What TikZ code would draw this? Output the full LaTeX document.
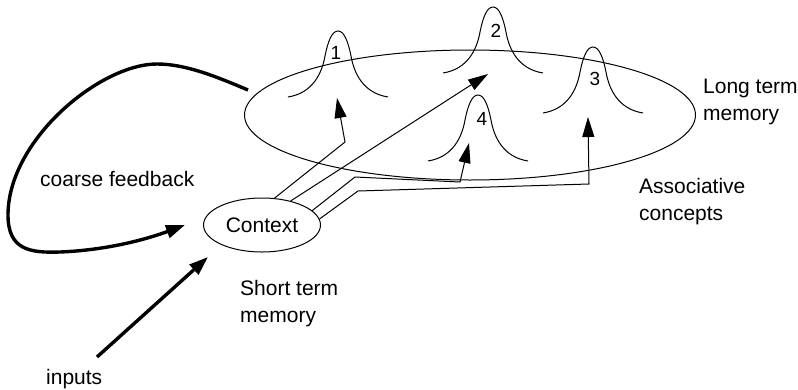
\documentclass[tikz,border=0pt]{standalone}
\usepackage{fontspec}
\setmainfont{Liberation Sans}
\usetikzlibrary{arrows.meta,shapes.geometric}
\begin{document}
\begin{tikzpicture}[x=1pt,y=-1pt,
  lbl/.style={font=\fontsize{21}{27}\selectfont, inner sep=0pt, align=left, anchor=base west},
  lbltwo/.style={lbl, anchor=north west},
  num/.style={font=\fontsize{19}{23}\selectfont, inner sep=0pt},
  wire/.style={line width=1pt},
  wirearrow/.style={wire, -{Triangle[length=20pt,width=12pt]}},
  thickarrow/.style={line width=3.4pt, -{Triangle[length=19pt,width=13pt]}},
  pics/bump/.style={code={\draw[wire] (-50,66) .. controls (-25,62) and (-16,42) .. (-13,25)
      .. controls (-10,10) and (-6,0) .. (0,0)
      .. controls (6,0) and (10,10) .. (13,25)
      .. controls (16,42) and (25,62) .. (50,66);}}
]
\useasboundingbox (0,0) rectangle (798,389);

% long term memory ellipse
\node[ellipse, draw, wire, minimum width=451pt, minimum height=130pt, inner sep=0pt] (ltm) at (470,115) {};

% bumps (associative concepts)
\pic at (338,31) {bump};
\pic at (493,7) {bump};
\pic at (593,47) {bump};
\pic at (478,95) {bump};
\node[num] (n1) at (336,53) {1};
\node[num] (n2) at (496,31) {2};
\node[num] (n3) at (595,79) {3};
\node[num] (n4) at (482,119) {4};

% context
\node[ellipse, draw, wire, minimum width=117pt, minimum height=54pt, inner sep=0pt,
      font=\fontsize{21}{27}\selectfont] (ctx) at (262,225) {Context};

% connectors from context to concepts
\coordinate (k1) at (345,142);
\coordinate (t1) at (337,98);
\coordinate (t2) at (488,74);
\coordinate (k4a) at (355,177);
\coordinate (k4b) at (460,182);
\coordinate (t4) at (469,143);
\coordinate (k3a) at (358,191);
\coordinate (k3b) at (589,184);
\coordinate (t3) at (588,117);
\draw[wirearrow] (ctx.65) -- (k1) -- (t1);
\draw[wirearrow] (ctx.40) -- (t2);
\draw[wirearrow] (ctx.16) -- (k4a) -- (k4b) -- (t4);
\draw[wirearrow] (ctx.6) -- (k3a) -- (k3b) -- (t3);

% coarse feedback
\coordinate (fbs) at (248,90);
\coordinate (fbe) at (185,225);
\draw[thickarrow] (fbs) .. controls (215,76) and (185,64) .. (157,64)
  .. controls (100,64) and (8,140) .. (8,215)
  .. controls (8,250) and (30,253) .. (60,252)
  .. controls (110,250) and (150,238) .. (fbe);

% inputs
\coordinate (ins) at (97,357);
\coordinate (ine) at (208,257);
\draw[thickarrow] (ins) -- (ine);

% labels
\node[lbl] (cf) at (40,186) {coarse feedback};
\node[lbl] (inp) at (46,384) {inputs};
\node[lbltwo] (stm) at (240,280) {Short term\\memory};
\node[lbltwo] (ltmlbl) at (703,79) {Long term\\memory};
\node[lbltwo] (assoc) at (639,178) {Associative\\concepts};
\end{tikzpicture}
\end{document}
